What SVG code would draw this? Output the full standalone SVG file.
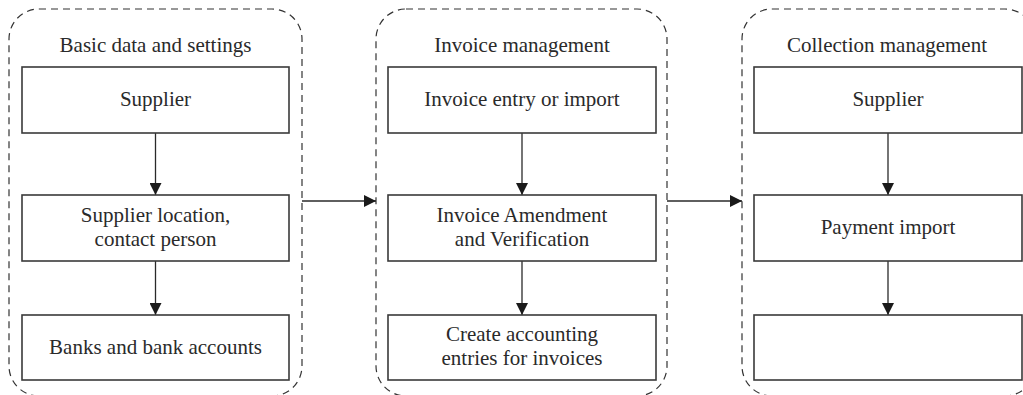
<svg xmlns="http://www.w3.org/2000/svg" width="1023" height="395" viewBox="0 0 1023 395">
  <defs>
    <marker id="ah" markerWidth="12" markerHeight="12" refX="12" refY="6" orient="auto" markerUnits="userSpaceOnUse">
      <path d="M0,0 L12,6 L0,12 Z" fill="#1a1a1a"/>
    </marker>
    <style>
      .grp { fill: none; stroke: #333; stroke-width: 1.2; stroke-dasharray: 7 5; }
      .box { fill: #fff; stroke: #3a3a3a; stroke-width: 1.6; }
      .t { font-family: "Liberation Serif", "Times New Roman", serif; font-size: 21px; fill: #2a2a2a; text-anchor: middle; }
      .c { stroke: #2a2a2a; stroke-width: 1.3; fill: none; marker-end: url(#ah); }
    </style>
  </defs>
  <rect width="1023" height="395" fill="#fff"/>

  <g id="group-basic">
    <rect class="grp" x="9" y="9" width="293" height="387" rx="30" ry="30"/>
    <text class="t" x="155.5" y="52">Basic data and settings</text>
  </g>
  <g id="group-invoice">
    <rect class="grp" x="376" y="9" width="291" height="387" rx="30" ry="30"/>
    <text class="t" x="522" y="52">Invoice management</text>
  </g>
  <g id="group-collection">
    <rect class="grp" x="742" y="9" width="293" height="387" rx="30" ry="30"/>
    <text class="t" x="887" y="52">Collection management</text>
  </g>

  <g id="connectors">
    <line class="c" x1="155.5" y1="133" x2="155.5" y2="195"/>
    <line class="c" x1="155.5" y1="261" x2="155.5" y2="315"/>
    <line class="c" x1="522" y1="133" x2="522" y2="195"/>
    <line class="c" x1="522" y1="261" x2="522" y2="315"/>
    <line class="c" x1="888" y1="133" x2="888" y2="195"/>
    <line class="c" x1="888" y1="261" x2="888" y2="315"/>
    <line class="c" x1="302" y1="201" x2="376" y2="201"/>
    <line class="c" x1="667" y1="201" x2="742" y2="201"/>
  </g>

  <g id="node-supplier1">
    <rect class="box" x="22" y="67" width="267" height="66"/>
    <text class="t" x="155.5" y="106">Supplier</text>
  </g>
  <g id="node-location">
    <rect class="box" x="22" y="195" width="267" height="66"/>
    <text class="t" x="155.5" y="222">Supplier location,</text>
    <text class="t" x="155.5" y="246">contact person</text>
  </g>
  <g id="node-banks">
    <rect class="box" x="22" y="315" width="267" height="65"/>
    <text class="t" x="155.5" y="354">Banks and bank accounts</text>
  </g>

  <g id="node-invoice-entry">
    <rect class="box" x="388" y="67" width="268" height="66"/>
    <text class="t" x="522" y="106">Invoice entry or import</text>
  </g>
  <g id="node-amendment">
    <rect class="box" x="388" y="195" width="268" height="66"/>
    <text class="t" x="522" y="222">Invoice Amendment</text>
    <text class="t" x="522" y="246">and Verification</text>
  </g>
  <g id="node-accounting">
    <rect class="box" x="388" y="315" width="268" height="65"/>
    <text class="t" x="522" y="341">Create accounting</text>
    <text class="t" x="522" y="365">entries for invoices</text>
  </g>

  <g id="node-supplier2">
    <rect class="box" x="754" y="67" width="268" height="66"/>
    <text class="t" x="888" y="106">Supplier</text>
  </g>
  <g id="node-payment">
    <rect class="box" x="754" y="195" width="268" height="66"/>
    <text class="t" x="888" y="234">Payment import</text>
  </g>
  <g id="node-empty">
    <rect class="box" x="754" y="315" width="268" height="65"/>
  </g>
</svg>
